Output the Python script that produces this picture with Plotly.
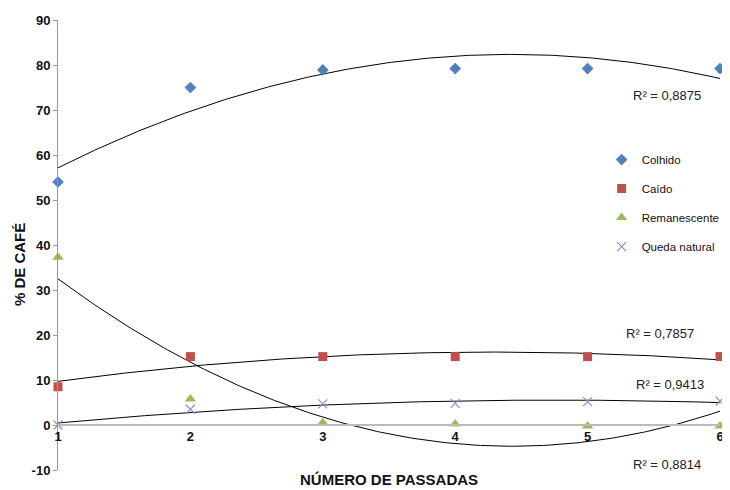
import numpy as np
import plotly.graph_objects as go

passadas = [1, 2, 3, 4, 5, 6]
colhido = [54.0, 75.0, 78.9, 79.2, 79.2, 79.2]
caido = [8.5, 15.2, 15.2, 15.2, 15.2, 15.2]
remanescente = [37.3, 5.8, 0.5, 0.2, -0.2, -0.2]
queda_natural = [0.0, 3.5, 4.7, 4.8, 5.2, 5.3]
r2_labels = ["R² = 0,8875", "R² = 0,7857", "R² = 0,9413", "R² = 0,8814"]
r2_pos = [(5.60, 73.3), (5.55, 20.4), (5.62, 8.9), (5.60, -8.7)]
y_ticks = list(range(-10, 91, 10))

FONT = "Liberation Sans, Arial, sans-serif"

series = [
    ("Colhido", colhido, dict(symbol="diamond", size=9, color="#4F81BD")),
    ("Caído", caido, dict(symbol="square", size=9, color="#C0504D")),
    ("Remanescente", remanescente, dict(symbol="triangle-up", size=10, color="#9BBB59")),
    ("Queda natural", queda_natural, dict(symbol="x-thin", size=9, color="#8064A2",
                                          line=dict(width=1.2, color="#9B8BC0"))),
]

fig = go.Figure()
xs = np.linspace(1, 6, 200)
for name, ys, mk in series:
    coef = np.polyfit(passadas, ys, 2)
    fig.add_trace(go.Scatter(x=xs, y=np.polyval(coef, xs), mode="lines",
                             line=dict(color="black", width=1), showlegend=False,
                             hoverinfo="skip"))
for i, (name, ys, mk) in enumerate(series):
    fig.add_trace(go.Scatter(x=passadas, y=ys, mode="markers", name=name, marker=mk,
                             cliponaxis=False, legendgroup=f"g{i}"))

for txt, (ax, ay) in zip(r2_labels, r2_pos):
    fig.add_annotation(x=ax, y=ay, xref="x", yref="y", text=txt, showarrow=False,
                       xanchor="center", font=dict(family=FONT, size=13, color="#222"))

fig.add_annotation(x=-0.057, y=0.456, xref="paper", yref="paper", text="<b>% DE CAFÉ</b>",
                   textangle=-90, showarrow=False, xanchor="center", yanchor="middle",
                   font=dict(family=FONT, size=15, color="#111"))
fig.add_annotation(x=0.5, y=-0.021, xref="paper", yref="paper", text="<b>NÚMERO DE PASSADAS</b>",
                   showarrow=False, xanchor="center", yanchor="middle",
                   font=dict(family=FONT, size=15, color="#111"))

# page body has an 8px default margin, so the figure is drawn 8px smaller
fig.update_layout(
    width=722, height=482,
    margin=dict(l=50, r=5, t=12, b=20),
    plot_bgcolor="white", paper_bgcolor="white",
    font=dict(family=FONT, size=12, color="#111"),
    legend=dict(x=1.007, y=0.722, xanchor="right", yanchor="top", traceorder="grouped",
                tracegroupgap=10, font=dict(family=FONT, size=11.5, color="#111"),
                itemwidth=30, bgcolor="rgba(0,0,0,0)"),
    xaxis=dict(range=[1, 6], tickvals=passadas, ticktext=[f"<b>{p}</b>" for p in passadas],
               showgrid=False, zeroline=False, showline=True, linecolor="#BBBBBB", linewidth=1.5,
               anchor="free", position=0.1, ticks="", tickfont=dict(size=13)),
    yaxis=dict(range=[-10, 90], tickvals=y_ticks, ticktext=[f"<b>{v}</b>" for v in y_ticks],
               showgrid=False, zeroline=False, showline=True,
               linecolor="#999999", linewidth=1, ticks="outside", ticklen=4, tickcolor="#999999",
               tickfont=dict(size=13)),
)

fig.write_html("out.html")
